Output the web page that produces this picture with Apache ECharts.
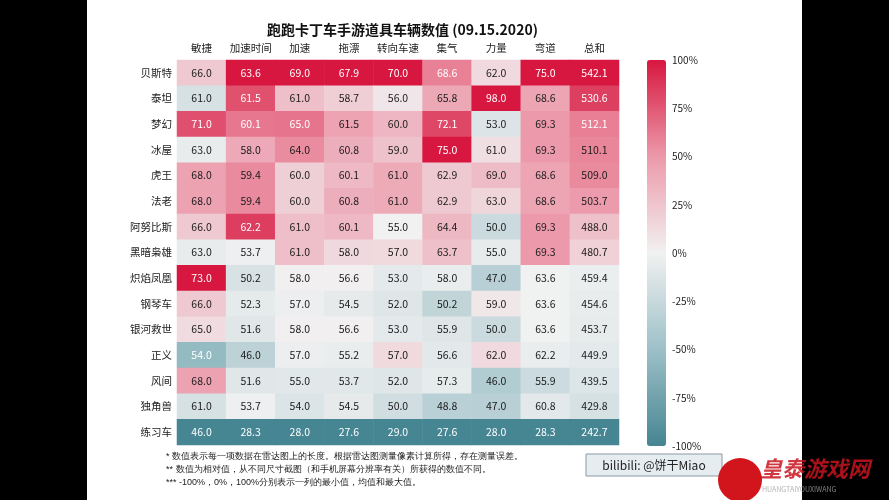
<!DOCTYPE html>
<html><head><meta charset="utf-8">
<script src="https://cdn.jsdelivr.net/npm/echarts@6/dist/echarts.min.js"></script>
<style>html,body{margin:0;padding:0;background:#000;}#c{width:889px;height:500px;}</style>
</head><body><div id="c"></div>
<script>
const columns = ['敏捷','加速时间','加速','拖漂','转向车速','集气','力量','弯道','总和'];
const cars = ['贝斯特','泰坦','梦幻','冰屋','虎王','法老','阿努比斯','黑暗枭雄','炽焰凤凰','钢琴车','银河救世','正义','风间','独角兽','练习车'];
const beisite  = [66.0, 63.6, 69.0, 67.9, 70.0, 68.6, 62.0, 75.0, 542.1];
const taitan   = [61.0, 61.5, 61.0, 58.7, 56.0, 65.8, 98.0, 68.6, 530.6];
const menghuan = [71.0, 60.1, 65.0, 61.5, 60.0, 72.1, 53.0, 69.3, 512.1];
const bingwu   = [63.0, 58.0, 64.0, 60.8, 59.0, 75.0, 61.0, 69.3, 510.1];
const huwang   = [68.0, 59.4, 60.0, 60.1, 61.0, 62.9, 69.0, 68.6, 509.0];
const falao    = [68.0, 59.4, 60.0, 60.8, 61.0, 62.9, 63.0, 68.6, 503.7];
const anubisi  = [66.0, 62.2, 61.0, 60.1, 55.0, 64.4, 50.0, 69.3, 488.0];
const heian    = [63.0, 53.7, 61.0, 58.0, 57.0, 63.7, 55.0, 69.3, 480.7];
const chiyan   = [73.0, 50.2, 58.0, 56.6, 53.0, 58.0, 47.0, 63.6, 459.4];
const gangqin  = [66.0, 52.3, 57.0, 54.5, 52.0, 50.2, 59.0, 63.6, 454.6];
const yinhe    = [65.0, 51.6, 58.0, 56.6, 53.0, 55.9, 50.0, 63.6, 453.7];
const zhengyi  = [54.0, 46.0, 57.0, 55.2, 57.0, 56.6, 62.0, 62.2, 449.9];
const fengjian = [68.0, 51.6, 55.0, 53.7, 52.0, 57.3, 46.0, 55.9, 439.5];
const dujiao   = [61.0, 53.7, 54.0, 54.5, 50.0, 48.8, 47.0, 60.8, 429.8];
const lianxi   = [46.0, 28.3, 28.0, 27.6, 29.0, 27.6, 28.0, 28.3, 242.7];
const barTicks = [-1, -0.75, -0.5, -0.25, 0, 0.25, 0.5, 0.75, 1];
const footnotes = [
  '* 数值表示每一项数据在雷达图上的长度。根据雷达图测量像素计算所得，存在测量误差。',
  '** 数值为相对值，从不同尺寸截图（和手机屏幕分辨率有关）所获得的数值不同。',
  '*** -100%，0%，100%分别表示一列的最小值，均值和最大值。'
];
const rows = [beisite,taitan,menghuan,bingwu,huwang,falao,anubisi,heian,chiyan,gangqin,yinhe,zhengyi,fengjian,dujiao,lianxi];

// per-column normalisation: min -> -1, mean -> 0, max -> 1
const stats = columns.map((_, j) => {
  const col = rows.map(r => r[j]);
  const mn = Math.min(...col), mx = Math.max(...col);
  const mean = col.reduce((a, b) => a + b, 0) / col.length;
  return {mn, mx, mean};
});
const data = [];
rows.forEach((r, i) => r.forEach((v, j) => {
  const s = stats[j];
  const n = v >= s.mean ? (v - s.mean) / (s.mx - s.mean) : (v - s.mean) / (s.mean - s.mn);
  const white = n > 0.575 || n < -0.45;
  data.push({value: [j, i, n, v], label: {color: white ? '#ffffff' : '#1a1a1a'}});
}));

const FONT = '"Noto Sans CJK SC","Noto Sans",sans-serif';
const chart = echarts.init(document.getElementById('c'));
chart.setOption({
  backgroundColor: '#000',
  animation: false,
  textStyle: {fontFamily: FONT},
  title: {
    text: '跑跑卡丁车手游道具车辆数值 (09.15.2020)',
    left: 262, top: 18,
    textStyle: {fontSize: 14, fontWeight: 'bold', color: '#111', fontFamily: FONT}
  },
  graphic: [
    {type: 'rect', shape: {x: 87, y: 0, width: 715, height: 500}, style: {fill: '#fff'}, z: -10, silent: true},
    {type: 'group', left: 166, top: 452, children: footnotes.map((t, k) => ({
      type: 'text', x: 0, y: k * 13, style: {text: t, fontSize: 9, fill: '#222', font: '9px ' + FONT}
    }))},
    {type: 'rect', shape: {x: 586, y: 454, width: 136, height: 22}, style: {fill: '#e6edf1', stroke: '#8a9aa3', lineWidth: 1}, z: 5},
    {type: 'text', x: 654, y: 465, style: {text: 'bilibili: @饼干Miao', font: '12px ' + FONT, fill: '#222', textAlign: 'center', textVerticalAlign: 'middle'}, z: 6},
    {type: 'circle', shape: {cx: 740, cy: 480, r: 22}, style: {fill: '#d2141c'}, z: 6},
    {type: 'text', x: 760, y: 458, style: {text: '皇泰游戏网', font: 'italic bold 22px ' + FONT, fill: 'rgba(200,20,30,0.85)'}, z: 6},
    {type: 'text', x: 762, y: 486, style: {text: 'HUANGTAIYOUXIWANG', font: '7px ' + FONT, fill: 'rgba(160,160,160,0.8)'}, z: 6}
  ],
  grid: [
    {left: 177, top: 60, width: 442, height: 385},
    {left: 647, top: 60, width: 19, height: 386}
  ],
  xAxis: [
    {type: 'category', gridIndex: 0, position: 'top', data: columns,
     axisLine: {show: false}, axisTick: {show: false}, splitLine: {show: false},
     axisLabel: {fontSize: 10.5, color: '#222', margin: 7, interval: 0}},
    {type: 'value', gridIndex: 1, show: false}
  ],
  yAxis: [
    {type: 'category', gridIndex: 0, inverse: true, data: cars,
     axisLine: {show: false}, axisTick: {show: false}, splitLine: {show: false},
     axisLabel: {fontSize: 10.5, color: '#222', margin: 5, interval: 0}},
    {type: 'value', gridIndex: 1, position: 'right', min: -1, max: 1, interval: 0.25,
     axisLine: {show: false}, axisTick: {show: false}, splitLine: {show: false},
     axisLabel: {fontSize: 10, color: '#222', margin: 6,
       formatter: v => barTicks.indexOf(v) >= 0 ? Math.round(v * 100) + '%' : ''}}
  ],
  visualMap: {
    type: 'continuous', min: -1, max: 1, dimension: 2, seriesIndex: 0,
    calculable: false, left: 647, top: 60, padding: 0,
    itemWidth: 19, itemHeight: 386, orient: 'vertical',
    text: ['', ''], showLabel: false,
    inRange: {color: ['#468592', '#9dc0c8', '#f1f1f1', '#ec99aa', '#d7173f']}
  },
  series: [{
    type: 'heatmap', xAxisIndex: 0, yAxisIndex: 0, data: data,
    label: {show: true, fontSize: 10.5, formatter: p => p.value[3].toFixed(1)},
    itemStyle: {borderWidth: 0},
    emphasis: {disabled: true}
  }]
});
</script></body></html>
